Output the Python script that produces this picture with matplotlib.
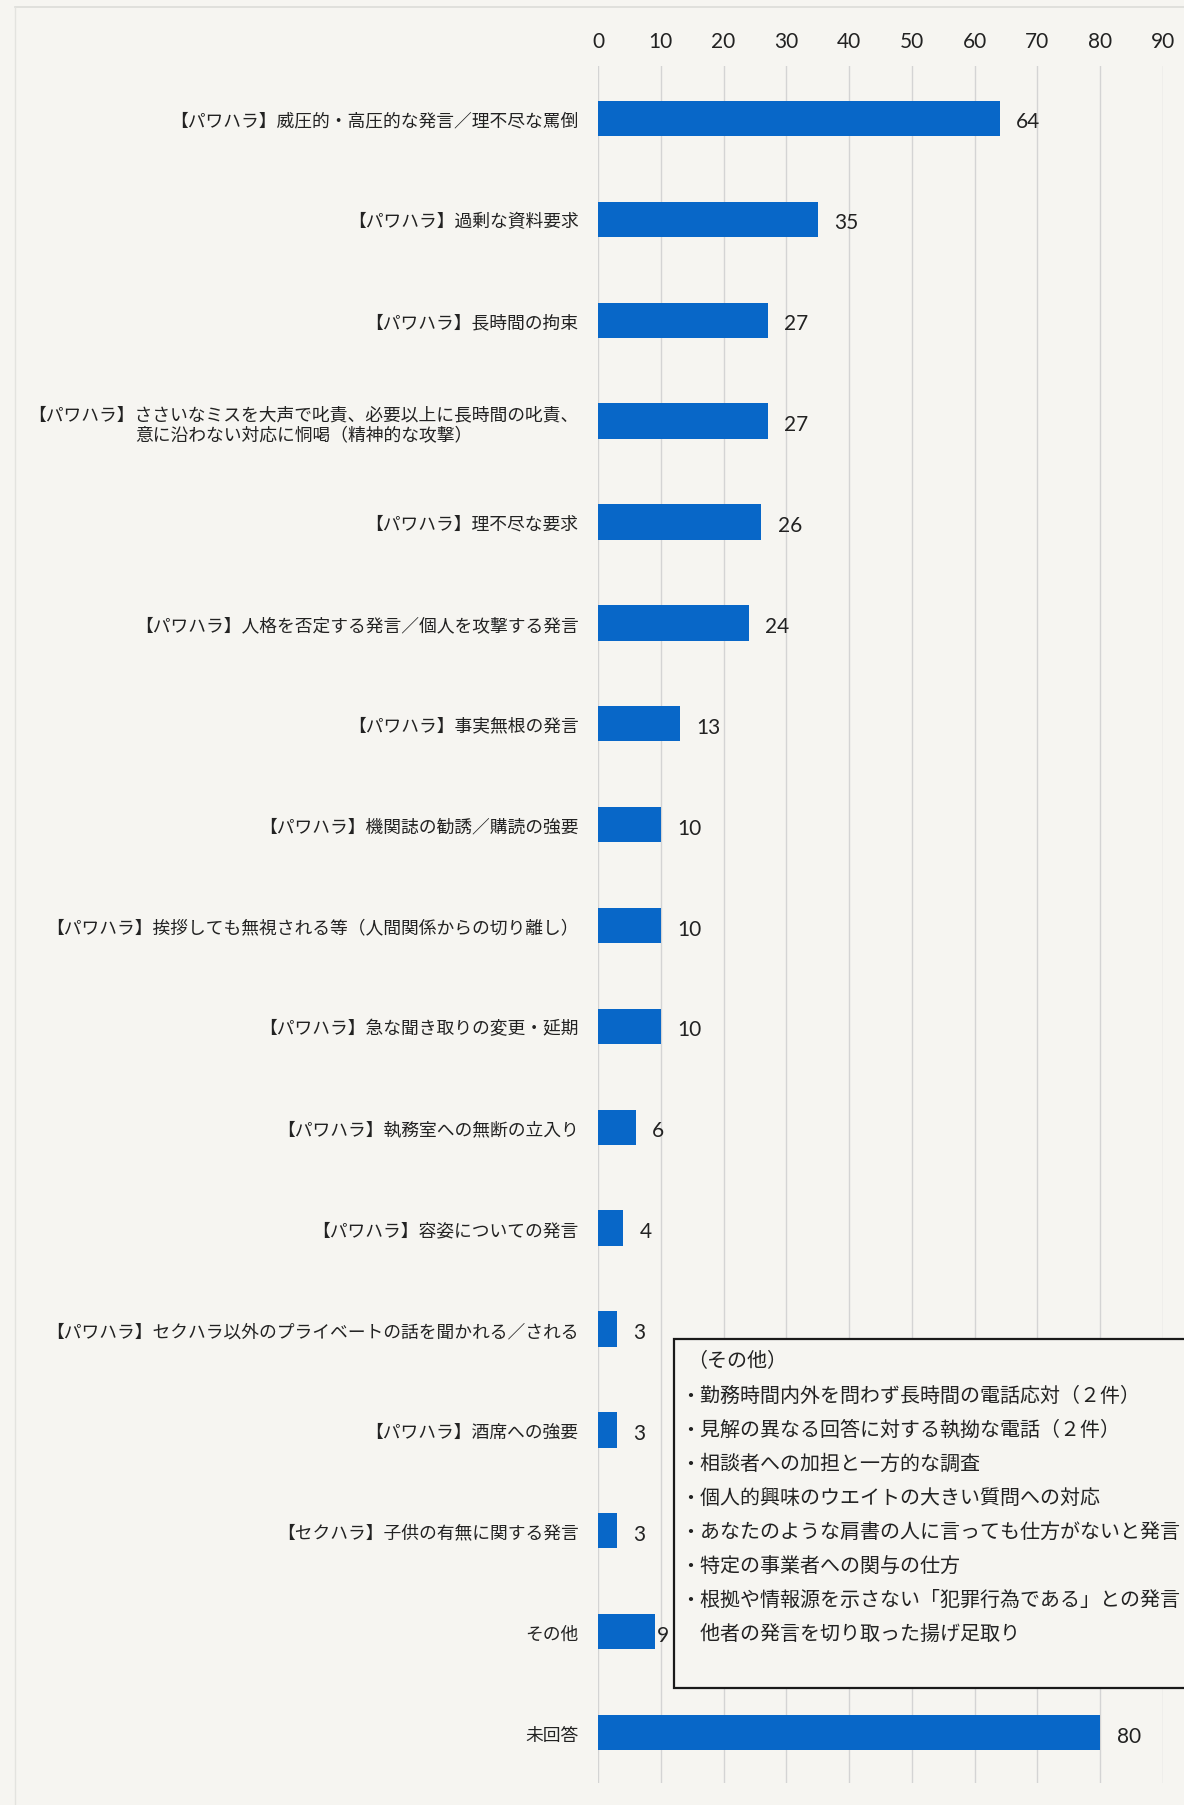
# import packages
import matplotlib.pyplot as plt
from matplotlib.patches import Rectangle
from matplotlib.lines import Line2D

plt.rcParams['font.family'] = ['Noto Sans CJK JP', 'DejaVu Sans']

# data
categories = [
    '【パワハラ】威圧的・高圧的な発言／理不尽な罵倒',
    '【パワハラ】過剰な資料要求',
    '【パワハラ】長時間の拘束',
    '【パワハラ】ささいなミスを大声で叱責、必要以上に長時間の叱責、\n意に沿わない対応に恫喝（精神的な攻撃）',
    '【パワハラ】理不尽な要求',
    '【パワハラ】人格を否定する発言／個人を攻撃する発言',
    '【パワハラ】事実無根の発言',
    '【パワハラ】機関誌の勧誘／購読の強要',
    '【パワハラ】挨拶しても無視される等（人間関係からの切り離し）',
    '【パワハラ】急な聞き取りの変更・延期',
    '【パワハラ】執務室への無断の立入り',
    '【パワハラ】容姿についての発言',
    '【パワハラ】セクハラ以外のプライベートの話を聞かれる／される',
    '【パワハラ】酒席への強要',
    '【セクハラ】子供の有無に関する発言',
    'その他',
    '未回答',
]
counts = [64, 35, 27, 27, 26, 24, 13, 10, 10, 10, 6, 4, 3, 3, 3, 9, 80]
x_ticks = [0, 10, 20, 30, 40, 50, 60, 70, 80, 90]

other_title = '（その他）'
other_items = [
    '・勤務時間内外を問わず長時間の電話応対（２件）',
    '・見解の異なる回答に対する執拗な電話（２件）',
    '・相談者への加担と一方的な調査',
    '・個人的興味のウエイトの大きい質問への対応',
    '・あなたのような肩書の人に言っても仕方がないと発言',
    '・特定の事業者への関与の仕方',
    '・根拠や情報源を示さない「犯罪行為である」との発言',
    '　他者の発言を切り取った揚げ足取り',
]

# styles
paper = '#f6f5f1'
bar_color = '#0867c8'
text_color = '#222222'
W, H = 1184, 1806

fig = plt.figure(figsize=(W / 100, H / 100), dpi=100, facecolor=paper)
ax = fig.add_axes([598 / W, 1 - 1784 / H, 565 / W, (1784 - 67) / H])
ax.set_facecolor(paper)

# faint page border at top and left
fig.add_artist(Line2D([15 / W, 1], [1 - 8 / H, 1 - 8 / H], color='#dcdcd8',
                      linewidth=1.2, transform=fig.transFigure))
fig.add_artist(Line2D([15 / W, 15 / W], [0, 1 - 8 / H], color='#e3e3df',
                      linewidth=1.0, transform=fig.transFigure))

y = list(range(len(categories)))
ax.barh(y, counts, height=0.35, color=bar_color, zorder=3)

ax.set_xlim(0, 90)
ax.set_ylim(len(categories) - 0.5, -0.52)
ax.set_xticks(x_ticks)
ax.xaxis.tick_top()
ax.tick_params(axis='x', length=0, pad=11, labelsize=15, labelcolor=text_color)
for t in ax.get_xticklabels():
    t.set_family(['Lato', 'DejaVu Sans'])
ax.set_yticks(y)
ax.set_yticklabels(categories, fontsize=12.8, color=text_color)
ax.tick_params(axis='y', length=0, pad=14)
for t in ax.get_yticklabels():
    t.set_multialignment('center')

ax.grid(axis='x', color='#d4d4d4', linewidth=1, zorder=0)
for s in ax.spines.values():
    s.set_visible(False)

# value labels next to each bar
for yi, v, name in zip(y, counts, categories):
    off = 0.3 if name == 'その他' else 2.6
    ax.text(v + off, yi + 0.03, str(v), va='center', ha='left',
            fontsize=15, color=text_color, family=['Lato', 'DejaVu Sans'],
            zorder=4)

# box listing the "その他" answers
bx = 674
box = Rectangle((bx / W, 1 - 1689 / H), 600 / W, (1689 - 1340) / H,
                transform=fig.transFigure, facecolor=paper,
                edgecolor='#1a1a1a', linewidth=1.6, zorder=5)
fig.add_artist(box)
fig.text((bx + 13) / W, 1 - 1362 / H, other_title, fontsize=14.4,
         color=text_color, va='center', ha='left', zorder=6)
for i, line in enumerate(other_items):
    fig.text((bx + 6) / W, 1 - (1396 + 34.1 * i) / H, line, fontsize=14.4,
             color=text_color, va='center', ha='left', zorder=6)

fig.savefig('out.png', dpi=100, facecolor=paper)
